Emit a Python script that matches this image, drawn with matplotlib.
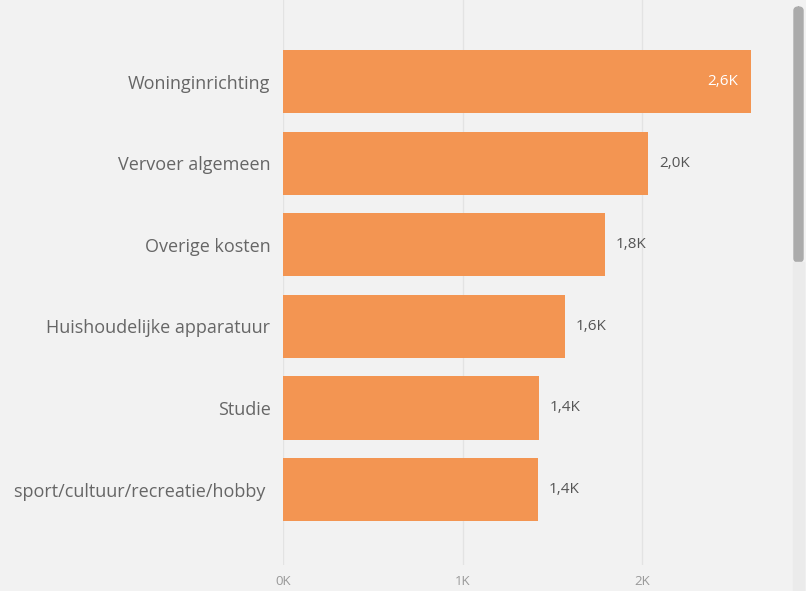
import matplotlib.pyplot as plt
from matplotlib.patches import FancyBboxPatch

categories = ["Woninginrichting", "Vervoer algemeen", "Overige kosten",
              "Huishoudelijke apparatuur", "Studie", "sport/cultuur/recreatie/hobby "]
values = [2.607, 2.033, 1.794, 1.571, 1.426, 1.420]
value_labels = ["2,6K", "2,0K", "1,8K", "1,6K", "1,4K", "1,4K"]
tick_values = [0, 1, 2]
tick_labels = ["0K", "1K", "2K"]

BG = "#f2f2f2"
BAR = "#f39552"

plt.rcParams['font.family'] = ['Open Sans', 'DejaVu Sans']

fig = plt.figure(figsize=(8.06, 5.91), dpi=100, facecolor=BG)
W, H = 806, 591
ax = fig.add_axes([283 / W, 1 - 565 / H, (760 - 283) / W, 565 / H], facecolor=BG)

y = list(range(len(categories)))
ax.barh(y, values, height=0.775, color=BAR, zorder=2)

ax.set_xlim(0, (760 - 283) / 179.5)
ax.set_ylim(5.925, -1.0)

ax.set_xticks(tick_values)
ax.set_xticklabels(tick_labels, color="#999999", fontsize=9.5)
ax.set_yticks(y)
ax.set_yticklabels(categories, color="#666666", fontsize=13)
ax.tick_params(length=0, axis="x", pad=7)
ax.tick_params(length=0, axis="y", pad=9)
ax.grid(axis="x", color="#e3e3e3", linewidth=1, zorder=0)
for s in ax.spines.values():
    s.set_visible(False)

for i, (v, lab) in enumerate(zip(values, value_labels)):
    if i == 0:
        ax.annotate(lab, (v, i), xytext=(-9, 0), textcoords="offset points",
                    ha="right", va="center", color="white", fontsize=11)
    else:
        ax.annotate(lab, (v, i), xytext=(8, 0), textcoords="offset points",
                    ha="left", va="center", color="#555555", fontsize=11)

# scrollbar
fig.patches.append(FancyBboxPatch((794 / W, 1 - 262 / H), 9 / W, 255 / H,
                                  boxstyle="round,pad=0,rounding_size=0.006",
                                  transform=fig.transFigure, color="#ababab"))
fig.patches.append(FancyBboxPatch((793 / W, 1 - 591 / H), 11 / W, 329 / H,
                                  boxstyle="square,pad=0",
                                  transform=fig.transFigure, color="#ebebeb"))

fig.savefig("out.png", dpi=100, facecolor=BG)
